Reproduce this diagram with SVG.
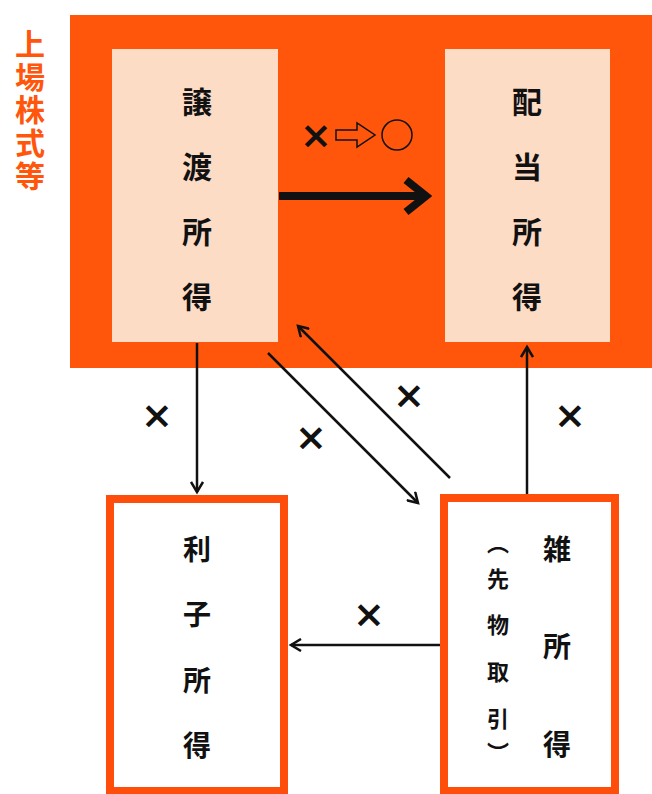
<svg xmlns="http://www.w3.org/2000/svg" width="652" height="794" viewBox="0 0 652 794">
<style>
.j{font-family:"Noto Sans CJK JP","Noto Sans CJK SC",sans-serif;font-weight:bold;text-anchor:middle;dominant-baseline:central;fill:#111}
.big{font-size:30px}
.mid{font-size:28px}
.sm{font-size:22px}
.x{font-family:"DejaVu Sans",sans-serif;font-weight:bold;font-size:38px;text-anchor:middle;dominant-baseline:central;fill:#111}
.ln{stroke:#111;stroke-width:2.5;fill:none}
.box{fill:#fff;stroke:#FF4E0C;stroke-width:8}
</style>
<defs>
<marker id="ah" markerWidth="14" markerHeight="14" refX="11" refY="7" orient="auto" markerUnits="userSpaceOnUse">
<path d="M1,1 L11,7 L1,13" fill="none" stroke="#111" stroke-width="2.5"/>
</marker>
<marker id="ahb" markerWidth="30" markerHeight="40" refX="24" refY="20" orient="auto" markerUnits="userSpaceOnUse">
<path d="M4,4 L24,20 L4,36" fill="none" stroke="#111" stroke-width="8"/>
</marker>
</defs>
<rect width="652" height="794" fill="#fff"/>
<g id="group-listed">
<rect x="70" y="15" width="582" height="353" fill="#FF560C"/>
<text x="30" y="29" style="writing-mode:vertical-rl;font-family:'Noto Sans CJK JP','Noto Sans CJK SC',sans-serif;font-weight:bold;font-size:30px;letter-spacing:3px;fill:#FF560C">上場株式等</text>
</g>
<g id="node-jouto">
<rect x="112" y="49" width="166" height="293" fill="#FDDCC6"/>
<g class="j big"><text x="197" y="100">譲</text><text x="197" y="165">渡</text><text x="197" y="230">所</text><text x="197" y="295">得</text></g>
</g>
<g id="node-haitou">
<rect x="445" y="49" width="165" height="293" fill="#FDDCC6"/>
<g class="j big"><text x="527" y="100">配</text><text x="527" y="165">当</text><text x="527" y="230">所</text><text x="527" y="295">得</text></g>
</g>
<g id="node-rishi">
<rect x="110" y="499" width="174" height="292" class="box"/>
<g class="j mid"><text x="197" y="548">利</text><text x="197" y="613">子</text><text x="197" y="679">所</text><text x="197" y="744">得</text></g>
</g>
<g id="node-zatsu">
<rect x="444" y="498" width="171" height="293" class="box"/>
<g class="j mid"><text x="557" y="548">雑</text><text x="557" y="645">所</text><text x="557" y="743">得</text></g>
<g class="j sm"><text x="498" y="541">︵</text><text x="498" y="577">先</text><text x="498" y="623">物</text><text x="498" y="670">取</text><text x="498" y="717">引</text><text x="498" y="751">︶</text></g>
</g>
<g id="connectors">
<line x1="279" y1="196" x2="426" y2="196" stroke="#111" stroke-width="8" marker-end="url(#ahb)"/>
<line x1="197" y1="343" x2="197" y2="492" class="ln" marker-end="url(#ah)"/>
<line x1="268" y1="353" x2="418" y2="503" class="ln" marker-end="url(#ah)"/>
<line x1="450" y1="478" x2="298" y2="326" class="ln" marker-end="url(#ah)"/>
<line x1="527" y1="494" x2="527" y2="347" class="ln" marker-end="url(#ah)"/>
<line x1="440" y1="645" x2="291" y2="645" class="ln" marker-end="url(#ah)"/>
</g>
<g id="labels">
<text class="x" x="316" y="135">×</text>
<path d="M336,130 L357,130 L357,123 L375,135 L357,147 L357,140 L336,140 Z" fill="none" stroke="#111" stroke-width="1.5"/>
<circle cx="397" cy="135" r="15" fill="none" stroke="#111" stroke-width="1.5"/>
<text class="x" x="157" y="415">×</text>
<text class="x" x="311" y="437">×</text>
<text class="x" x="409" y="395">×</text>
<text class="x" x="570" y="415">×</text>
<text class="x" x="369" y="614">×</text>
</g>
</svg>
